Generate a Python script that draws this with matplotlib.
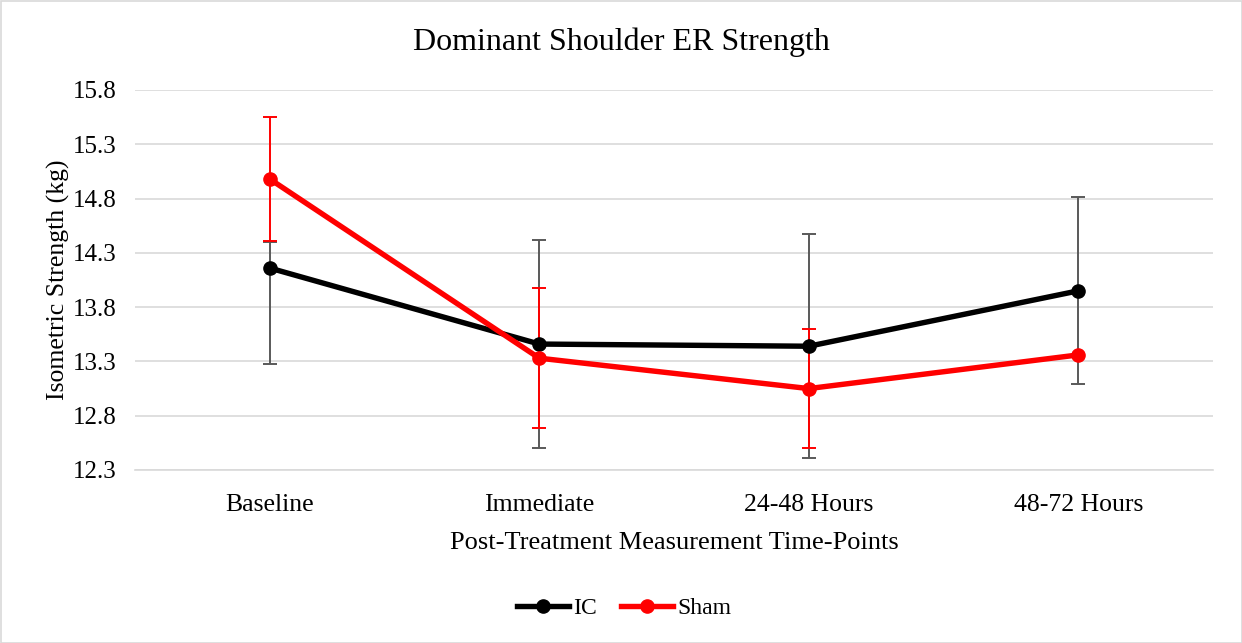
import matplotlib
matplotlib.use("Agg")
import matplotlib.pyplot as plt
from matplotlib.patches import Rectangle
from matplotlib.lines import Line2D

categories = ["Baseline", "Immediate", "24-48 Hours", "48-72 Hours"]
ic_mean = [14.16, 13.46, 13.44, 13.95]
ic_err_low = [0.88, 0.96, 1.03, 0.86]
ic_err_high = [0.24, 0.96, 1.03, 0.86]
sham_mean = [14.98, 13.33, 13.05, 13.36]
sham_err = [0.575, 0.645, 0.55, 0.0]
yticks = [12.3, 12.8, 13.3, 13.8, 14.3, 14.8, 15.3, 15.8]

plt.rcParams['font.family'] = ['Liberation Serif', 'DejaVu Serif']

fig = plt.figure(figsize=(12.42, 6.43), dpi=100)
ax = fig.add_axes([135/1242, 1-470/643, (1213-135)/1242, (470-90)/643])

x = list(range(len(categories)))

ax.errorbar(x, ic_mean, yerr=[ic_err_low, ic_err_high], fmt='none', ecolor='#595959', elinewidth=1.4,
            capsize=5, capthick=1.4, zorder=3)
ax.errorbar(x, sham_mean, yerr=[e if e > 0 else float('nan') for e in sham_err], fmt='none',
            ecolor='#ff0000', elinewidth=1.4, capsize=5, capthick=1.4, zorder=4)
ax.plot(x, ic_mean, color='black', lw=3.9, marker='o', ms=9.5, zorder=5)
ax.plot(x, sham_mean, color='#ff0000', lw=3.9, marker='o', ms=9.5, zorder=6)

ax.set_xlim(-0.5, 3.5)
ax.set_ylim(12.3, 15.8)
ax.set_yticks(yticks)
ax.set_yticklabels([f"{v:.1f}" for v in yticks], fontsize=18)
ax.set_xticks(x)
ax.set_xticklabels(categories, fontsize=18.5)
ax.tick_params(axis='y', length=0, pad=13)
ax.tick_params(axis='x', length=0, pad=17)
ax.grid(axis='y', color='#d9d9d9', lw=1.2)
ax.set_axisbelow(True)
for s in ['top', 'right', 'left']:
    ax.spines[s].set_visible(False)
ax.spines['bottom'].set_color('#d9d9d9')
ax.spines['bottom'].set_linewidth(1.2)

ax.set_ylabel("Isometric Strength (kg)", fontsize=18.5, labelpad=2)
ax.set_xlabel("Post-Treatment Measurement Time-Points", fontsize=19, labelpad=12)
fig.text(0.5, 1-42/643, "Dominant Shoulder ER Strength", ha='center', va='center', fontsize=23)

handles = [Line2D([], [], color='black', lw=3.9, marker='o', ms=9.5),
           Line2D([], [], color='#ff0000', lw=3.9, marker='o', ms=9.5)]
fig.legend(handles, ["IC", "Sham"], loc='center', bbox_to_anchor=(624/1242, 1-608/643), ncol=2,
           frameon=False, fontsize=17, handlelength=2.2, columnspacing=1.0, handletextpad=0.2)

fig.patches.append(Rectangle((0.5/1242, 0.5/643), 1-1/1242, 1-1/643, transform=fig.transFigure,
                             fill=False, edgecolor='#d9d9d9', lw=1.2))

fig.savefig("out.png", dpi=100, facecolor='white')
